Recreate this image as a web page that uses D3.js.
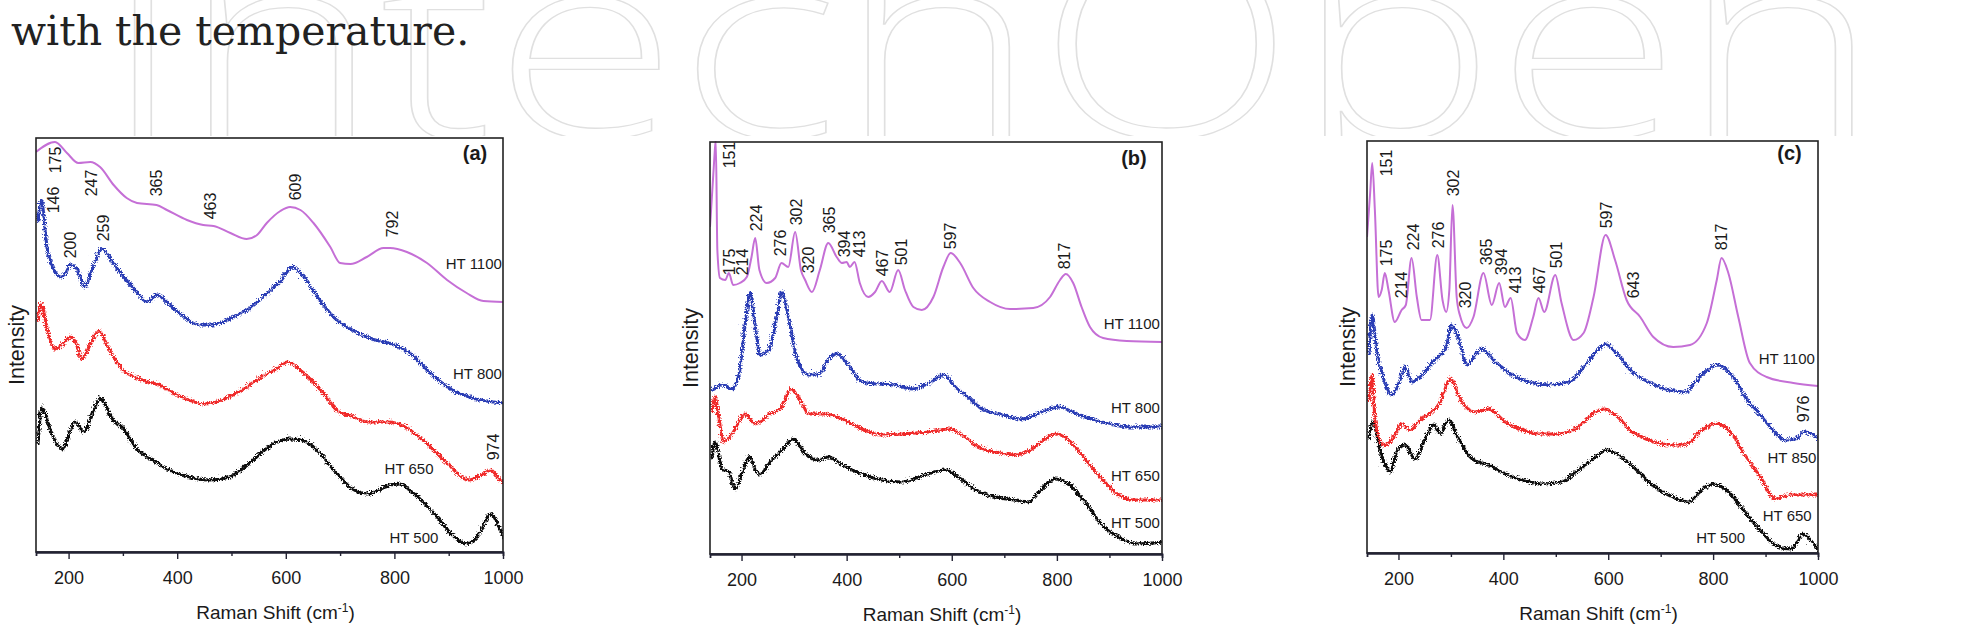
<!DOCTYPE html>
<html>
<head>
<meta charset="utf-8">
<script src="https://cdn.jsdelivr.net/npm/d3@7"></script>
<style>
  body { margin: 0; background: #fff; }
  text { font-family: "Liberation Sans", Arial, sans-serif; fill: #1a1a1a; }
</style>
</head>
<body>
<svg id="fig" width="1962" height="644"></svg>
<script>
"use strict";

// Raman shift range shared by the three panels (cm-1)
const shiftRange = [140, 1000];
const majorTicks = [200, 400, 600, 800, 1000];
const minorTicks = [300, 500, 700, 900];

// ---- panel (a) : [Raman shift, intensity a.u.]
const a_ht1100 = [[140,400],[175,410],[197,399],[218,389],[240,390],[258,385],[283,367],[307,354],[326,349],[362,347],[381,342],[418,332],[448,327],[467,326],[498,319],[528,313],[547,317],[565,329],[590,341],[608,345],[627,342],[651,329],[682,305],[700,289],[719,288],[749,295],[780,304],[792,304],[823,300],[860,289],[897,272],[933,259],[964,251],[1000,250]];
const a_ht800 = [[140,332],[146,354],[157,305],[169,285],[181,277],[190,280],[200,289],[212,285],[226,267],[240,285],[258,305],[277,292],[295,279],[319,264],[341,252],[359,259],[381,250],[409,237],[436,229],[461,229],[492,235],[528,245],[565,262],[590,275],[608,287],[627,279],[657,255],[688,235],[719,224],[749,216],[792,210],[829,199],[866,179],[903,164],[946,155],[1000,151]];
const a_ht650 = [[140,232],[146,250],[157,225],[172,205],[184,209],[200,217],[209,212],[221,195],[236,209],[253,223],[270,205],[295,185],[332,174],[362,169],[393,160],[418,154],[445,150],[479,154],[516,164],[553,177],[584,187],[599,192],[627,182],[664,162],[694,142],[712,139],[749,132],[786,132],[816,127],[853,112],[891,92],[933,74],[958,79],[974,84],[989,75],[1000,70]];
const a_ht500 = [[140,109],[147,146],[166,119],[184,105],[209,132],[224,122],[240,139],[255,156],[277,135],[298,125],[319,107],[350,94],[381,84],[418,77],[455,74],[492,77],[528,90],[565,107],[602,115],[627,114],[657,102],[688,82],[719,65],[749,60],[780,67],[805,70],[835,59],[872,39],[903,19],[928,10],[953,20],[974,40],[989,27],[1000,14]];
// peak annotations [label, shift, intensity of label centre]
const a_peaks = [["146",172,352],["175",175,392],["247",243,369],["365",362,369],["463",461,346],["609",617,365],["792",796,328],["200",204,307],["259",264,324],["974",982,105]];
const a_names = [["HT 1100",998,289],["HT 800",998,179],["HT 650",872,84],["HT 500",881,15]];

// ---- panel (b)
const b_ht1100 = [[140,327],[148,394],[151,414],[154,304],[159,276],[169,274],[176,281],[184,269],[197,271],[210,277],[219,297],[226,316],[234,284],[248,271],[264,276],[276,291],[289,287],[302,322],[313,284],[321,274],[334,262],[349,284],[365,311],[381,297],[391,291],[400,292],[406,287],[415,292],[425,271],[441,257],[454,262],[467,273],[482,262],[498,284],[511,264],[527,247],[543,244],[565,257],[584,287],[598,301],[616,291],[641,266],[673,252],[711,245],[755,246],[787,257],[806,274],[817,280],[831,271],[847,247],[863,227],[888,216],[933,213],[1000,212]];
const b_ht800 = [[140,165],[159,171],[178,167],[191,181],[203,231],[213,264],[222,231],[232,201],[248,206],[264,241],[273,264],[286,237],[302,197],[324,181],[343,181],[362,197],[378,202],[400,191],[425,174],[457,172],[489,171],[520,167],[552,172],[581,181],[603,169],[620,162],[654,147],[692,141],[730,137],[768,144],[800,149],[838,141],[882,134],[933,129],[1000,129]];
const b_ht650 = [[140,144],[146,159],[152,142],[162,114],[178,122],[203,142],[222,132],[248,141],[273,149],[290,167],[310,154],[324,142],[356,142],[387,137],[425,127],[463,121],[501,122],[552,124],[590,127],[616,121],[647,109],[679,104],[717,101],[749,107],[774,117],[796,122],[818,116],[850,97],[882,77],[914,61],[945,56],[1000,56]];
const b_ht500 = [[140,97],[146,114],[159,87],[172,84],[184,67],[200,87],[211,99],[229,81],[254,96],[276,107],[294,117],[318,102],[343,96],[362,99],[387,91],[425,82],[463,76],[501,74],[546,81],[584,86],[609,79],[641,66],[679,59],[717,56],[742,54],[768,67],[793,77],[818,72],[850,54],[882,31],[914,19],[945,12],[1000,14]];
const b_peaks = [["151",178,399],["175",177,292],["214",202,292],["224",229,336],["276",275,311],["302",305,342],["320",327,294],["365",367,334],["394",396,310],["413",424,310],["467",469,291],["501",505,302],["597",598,318],["817",815,298]];
const b_names = [["HT 1100",996,231],["HT 800",996,147],["HT 650",996,79],["HT 500",996,32]];

// ---- panel (c)
const c_ht1100 = [[140,316],[146,360],[150,390],[155,343],[162,256],[168,263],[174,280],[181,263],[193,231],[206,243],[214,248],[225,295],[235,256],[244,233],[260,233],[274,298],[284,253],[291,241],[297,263],[303,348],[311,256],[317,238],[330,225],[343,236],[362,280],[378,248],[392,270],[403,246],[414,255],[426,220],[441,213],[457,236],[467,255],[478,241],[499,278],[511,250],[534,213],[553,220],[572,256],[595,318],[613,293],[635,253],[661,236],[686,216],[724,206],[756,208],[788,230],[807,273],[816,295],[829,280],[848,236],[870,190],[902,176],[953,170],[1000,167]];
const c_ht850 = [[140,200],[146,240],[155,203],[168,176],[184,160],[200,176],[209,188],[222,173],[241,180],[267,196],[286,206],[298,230],[311,216],[327,190],[343,200],[355,206],[381,193],[413,180],[445,173],[483,170],[521,173],[553,190],[578,206],[591,211],[610,203],[642,183],[673,173],[712,165],[743,163],[775,180],[804,190],[832,180],[864,153],[877,146],[902,130],[934,115],[953,116],[972,123],[1000,115]];
const c_ht650 = [[140,153],[146,180],[152,133],[168,110],[184,115],[203,131],[219,125],[238,135],[260,143],[276,153],[295,176],[317,153],[343,143],[368,146],[400,133],[432,125],[464,121],[495,121],[534,126],[565,140],[588,146],[610,140],[642,123],[673,115],[712,110],[743,110],[775,125],[804,131],[826,125],[857,100],[889,76],[915,56],[940,60],[1000,60]];
const c_ht500 = [[140,116],[147,133],[162,103],[181,83],[193,103],[209,110],[228,96],[247,116],[263,130],[276,121],[292,135],[311,116],[337,96],[368,90],[400,81],[432,75],[470,71],[508,73],[540,85],[572,98],[594,105],[616,100],[648,86],[680,70],[718,58],[750,53],[775,65],[797,71],[826,63],[857,43],[889,23],[921,8],[946,6],[968,21],[985,13],[1000,3]];
const c_peaks = [["151",178,390],["175",178,300],["214",206,268],["224",228,316],["276",276,318],["302",305,370],["320",327,258],["365",367,301],["394",397,291],["413",424,273],["467",469,273],["501",502,298],["597",597,338],["643",648,268],["817",816,316],["976",972,144]];
const c_names = [["HT 1100",994,195],["HT 850",997,96],["HT 650",988,38],["HT 500",861,16]];

const COL = { p: "#c56fd6", b: "#2b3db5", r: "#f02a2a", k: "#111111" };

const panels = [
  { tag: "(a)", tagAt: [971, 399], box: { l: 36, r: 503, t: 138, b: 552 }, yMax: 414,
    series: [[a_ht1100, COL.p], [a_ht800, COL.b], [a_ht650, COL.r], [a_ht500, COL.k]],
    peaks: a_peaks, names: a_names },
  { tag: "(b)", tagAt: [971, 396], box: { l: 710, r: 1162, t: 142, b: 554 }, yMax: 412,
    series: [[b_ht1100, COL.p], [b_ht800, COL.b], [b_ht650, COL.r], [b_ht500, COL.k]],
    peaks: b_peaks, names: b_names },
  { tag: "(c)", tagAt: [969, 400], box: { l: 1367, r: 1818, t: 141, b: 553 }, yMax: 412,
    series: [[c_ht1100, COL.p], [c_ht850, COL.b], [c_ht650, COL.r], [c_ht500, COL.k]],
    peaks: c_peaks, names: c_names }
];

const svg = d3.select("#fig");
const defs = svg.append("defs");

// noisy look of the measured spectra
const flt = defs.append("filter").attr("id", "jitter")
  .attr("x", "-2%").attr("y", "-10%").attr("width", "104%").attr("height", "120%");
flt.append("feTurbulence").attr("type", "turbulence")
  .attr("baseFrequency", "0.45 0.9").attr("numOctaves", 1).attr("seed", 4).attr("result", "n");
flt.append("feDisplacementMap").attr("in", "SourceGraphic").attr("in2", "n")
  .attr("scale", 5.5).attr("xChannelSelector", "R").attr("yChannelSelector", "G");

// watermark (outlined letters, cut flat just above the panels)
const wm = svg.append("svg").attr("x", 0).attr("y", 0)
  .attr("width", 1962).attr("height", 136).style("overflow", "hidden");
wm.append("text")
  .attr("x", 105).attr("y", 137)
  .attr("textLength", 1775).attr("lengthAdjust", "spacingAndGlyphs")
  .style("font-family", "'Open Sans', 'Noto Sans', sans-serif")
  .style("font-size", "260px").style("font-weight", 300)
  .style("fill", "none").style("stroke", "#e0e0e0").style("stroke-width", 1.3)
  .text("intechOpen");

svg.append("text")
  .attr("x", 11).attr("y", 45)
  .style("font-family", "'DejaVu Serif', serif").style("font-size", "41px").style("fill", "#222")
  .text("with the temperature.");

panels.forEach((p, k) => {
  const bx = p.box;
  const x = d3.scaleLinear().domain(shiftRange).range([bx.l, bx.r]);
  const y = d3.scaleLinear().domain([0, p.yMax]).range([bx.b, bx.t]);
  const g = svg.append("g");

  g.append("rect").attr("x", bx.l).attr("y", bx.t)
    .attr("width", bx.r - bx.l).attr("height", bx.b - bx.t).attr("fill", "#fff");

  defs.append("clipPath").attr("id", "clip" + k)
    .append("rect").attr("x", bx.l).attr("y", bx.t - 1)
    .attr("width", bx.r - bx.l).attr("height", bx.b - bx.t + 1);

  const line = d3.line()
    .x(d => x(d[0])).y(d => y(d[1]))
    .curve(d3.curveMonotoneX);

  const plot = g.append("g").attr("clip-path", "url(#clip" + k + ")");
  // draw bottom curves first
  p.series.slice().reverse().forEach(([pts, col]) => {
    const smooth = col === COL.p;
    const path = plot.append("path")
      .datum(pts)
      .attr("d", line)
      .attr("fill", "none")
      .attr("stroke", col)
      .attr("stroke-width", smooth ? 2 : 3)
      .attr("stroke-linejoin", "round");
    if (!smooth) path.attr("filter", "url(#jitter)");
  });

  // frame
  g.append("rect").attr("x", bx.l).attr("y", bx.t)
    .attr("width", bx.r - bx.l).attr("height", bx.b - bx.t)
    .attr("fill", "none").attr("stroke", "#222").attr("stroke-width", 1.6);

  // x axis
  const ax = g.append("g").attr("transform", "translate(0," + bx.b + ")")
    .call(d3.axisBottom(x).tickValues(majorTicks).tickFormat(d3.format("d"))
      .tickSize(7).tickPadding(12).tickSizeOuter(0));
  ax.append("g").call(d3.axisBottom(x).tickValues(minorTicks).tickSize(4).tickFormat(""));
  ax.selectAll(".domain").attr("stroke", "#223").attr("stroke-width", 1.8);
  ax.selectAll(".tick line").attr("stroke", "#223").attr("stroke-width", 1.4);
  ax.selectAll(".tick text")
    .style("font-family", "'Liberation Sans', Arial, sans-serif")
    .style("font-size", "18px").attr("fill", "#1a1a1a");

  const xt = g.append("text")
    .attr("x", (bx.l + bx.r) / 2 + 6).attr("y", bx.b + 67)
    .attr("text-anchor", "middle")
    .style("font-size", "19px");
  xt.append("tspan").text("Raman Shift (cm");
  xt.append("tspan").attr("dy", -7).style("font-size", "12px").text("-1");
  xt.append("tspan").attr("dy", 7).text(")");

  g.append("text")
    .attr("transform", "translate(" + (bx.l - 19) + "," + ((bx.t + bx.b) / 2) + ") rotate(-90)")
    .attr("text-anchor", "middle").attr("dominant-baseline", "central")
    .style("font-size", "21.5px")
    .text("Intensity");

  // peak positions
  g.selectAll("text.peak").data(p.peaks).enter().append("text")
    .attr("class", "peak")
    .attr("transform", d => "translate(" + x(d[1]) + "," + y(d[2]) + ") rotate(-90)")
    .attr("text-anchor", "middle").attr("dominant-baseline", "central")
    .style("font-size", "16px")
    .text(d => d[0]);

  // series names
  g.selectAll("text.name").data(p.names).enter().append("text")
    .attr("class", "name")
    .attr("x", d => x(d[1])).attr("y", d => y(d[2]))
    .attr("text-anchor", "end").attr("dominant-baseline", "central")
    .style("font-size", "15px")
    .text(d => d[0]);

  g.append("text")
    .attr("x", x(p.tagAt[0])).attr("y", y(p.tagAt[1]))
    .attr("text-anchor", "end").attr("dominant-baseline", "central")
    .style("font-size", "20px").style("font-weight", "bold")
    .text(p.tag);
});
</script>
</body>
</html>
